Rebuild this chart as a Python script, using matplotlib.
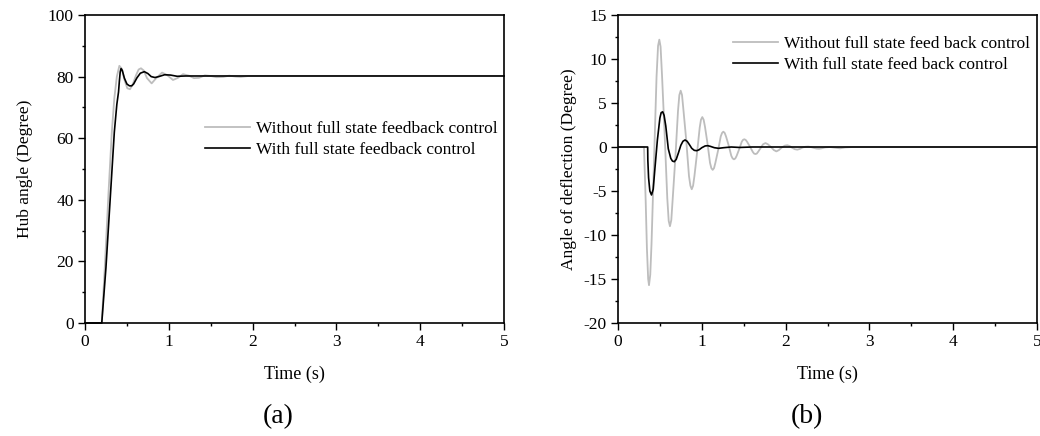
import matplotlib
matplotlib.use("Agg")
import matplotlib.pyplot as plt
from matplotlib.ticker import MultipleLocator

# ---------------- data (a) hub angle ----------------
ta_without = [0.0, 0.2, 0.24, 0.28, 0.32, 0.35, 0.38, 0.41, 0.44, 0.47, 0.505, 0.537, 0.57, 0.61,
              0.64, 0.668, 0.70, 0.74, 0.795, 0.85, 0.92, 0.98, 1.05, 1.11, 1.17, 1.24, 1.30,
              1.36, 1.43, 1.50, 1.57, 1.65, 1.72, 1.80, 1.86, 1.95, 5.0]
va_without = [0.0, 0.0, 20, 42, 62, 73, 80, 83.5, 82.5, 79.0, 76.2, 75.9, 77.5, 80.5,
              82.3, 82.7, 82.0, 79.5, 77.8, 79.5, 81.3, 80.5, 78.9, 79.6, 80.8, 80.3, 79.5,
              79.6, 80.4, 80.2, 79.8, 79.9, 80.3, 80.0, 79.9, 80.2, 80.2]

ta_with = [0.0, 0.2, 0.25, 0.30, 0.35, 0.38, 0.40, 0.41, 0.42, 0.43, 0.445, 0.47, 0.50, 0.53,
           0.557, 0.58, 0.62, 0.66, 0.708, 0.75, 0.79, 0.835, 0.88, 0.95, 1.02, 1.10, 1.20, 5.0]
va_with = [0.0, 0.0, 18, 40, 62, 71, 75, 78.5, 81.5, 82.6, 82.0, 79.5, 77.6, 77.0,
           77.0, 77.6, 79.6, 81.1, 81.6, 81.0, 80.0, 79.7, 80.0, 80.6, 80.5, 80.1, 80.2, 80.2]

# ---------------- data (b) angle of deflection ----------------
tb_without = [0.00, 0.31, 0.33, 0.345, 0.36, 0.37, 0.385, 0.40, 0.43, 0.46, 0.478, 0.493, 0.508,
              0.525, 0.556, 0.588, 0.605, 0.62, 0.636, 0.652, 0.684, 0.716, 0.732, 0.748, 0.764,
              0.78, 0.814, 0.847, 0.864, 0.88, 0.896, 0.912, 0.943, 0.975, 0.99, 1.006, 1.022,
              1.038, 1.068, 1.098, 1.114, 1.13, 1.146, 1.162, 1.194, 1.226, 1.242, 1.257, 1.273,
              1.289, 1.32, 1.352, 1.368, 1.384, 1.40, 1.416, 1.446, 1.477, 1.493, 1.508, 1.524,
              1.54, 1.574, 1.608, 1.624, 1.64, 1.656, 1.672, 1.70, 1.73, 1.76, 1.79, 1.825,
              1.86, 1.89, 1.92, 1.955, 1.99, 2.02, 2.05, 2.08, 2.11, 2.14, 2.17, 2.205, 2.24,
              2.27, 2.30, 2.335, 2.37, 2.40, 2.43, 2.47, 2.53, 2.59, 2.65, 2.71, 2.80, 5.0]
vb_without = [0.0, 0.0, -6.0, -11.5, -15.0, -15.7, -14.5, -11.0, -1.5, 8.0, 11.5, 12.2, 11.4,
              8.2, 1.6, -5.8, -8.4, -9.0, -8.3, -6.0, -1.3, 4.1, 5.9, 6.4, 5.9,
              4.3, 0.8, -3.3, -4.4, -4.8, -4.4, -3.3, -0.7, 2.2, 3.1, 3.4, 3.1,
              2.3, 0.4, -1.8, -2.4, -2.6, -2.4, -1.8, -0.4, 1.2, 1.6, 1.74, 1.6,
              1.2, 0.2, -1.0, -1.3, -1.4, -1.3, -1.0, -0.25, 0.6, 0.82, 0.88, 0.8,
              0.6, 0.05, -0.55, -0.75, -0.8, -0.75, -0.55, -0.15, 0.3, 0.45, 0.3, 0.0,
              -0.35, -0.5, -0.35, -0.05, 0.15, 0.2, 0.1, -0.1, -0.25, -0.3, -0.22, -0.05, 0.03,
              0.05, 0.0, -0.1, -0.18, -0.2, -0.15, -0.05, 0.0, -0.08, -0.15, -0.05, 0.0, 0.0]

tb_with = [0.0, 0.354, 0.356, 0.365, 0.38, 0.40, 0.42, 0.44, 0.47, 0.50, 0.515, 0.533, 0.55,
           0.57, 0.60, 0.63, 0.65, 0.672, 0.695, 0.72, 0.75, 0.775, 0.80, 0.825, 0.85, 0.88,
           0.91, 0.94, 0.97, 1.00, 1.04, 1.07, 1.10, 1.15, 1.20, 1.26, 1.35, 1.45, 1.60, 5.0]
vb_with = [0.0, 0.0, -1.5, -3.5, -5.0, -5.45, -4.8, -2.5, 0.8, 3.3, 3.9, 4.0, 3.6,
           2.4, -0.2, -1.3, -1.6, -1.67, -1.4, -0.7, 0.2, 0.65, 0.8, 0.65, 0.3, -0.15,
           -0.38, -0.42, -0.3, -0.08, 0.12, 0.15, 0.08, -0.08, -0.15, -0.08, 0.0, -0.05, 0.0, 0.0]

label_a_without = "Without full state feedback control"
label_a_with = "With full state feedback control"
label_b_without = "Without full state feed back control"
label_b_with = "With full state feed back control"

plt.rcParams['font.family'] = ['Liberation Serif', 'DejaVu Serif']
plt.rcParams['font.size'] = 12.5
plt.rcParams['axes.unicode_minus'] = False

fig = plt.figure(figsize=(10.4, 4.36), dpi=100)
axa = fig.add_axes([85/1040, 113/436, 419/1040, 308/436])
axb = fig.add_axes([618/1040, 113/436, 419/1040, 308/436])

grey = '#bdbdbd'
for ax in (axa, axb):
    for s in ax.spines.values():
        s.set_linewidth(1.2)
    ax.tick_params(which='both', direction='out', top=False, right=False, labelsize=12.5,
                   width=1.0, pad=3)
    ax.tick_params(which='major', length=5)
    ax.tick_params(which='minor', length=2.5)
    ax.set_xlim(0, 5)
    ax.xaxis.set_major_locator(MultipleLocator(1))
    ax.xaxis.set_minor_locator(MultipleLocator(0.5))
    ax.set_xlabel("Time (s)", fontsize=13, labelpad=11)

axa.plot(ta_without, va_without, color=grey, lw=1.3, label=label_a_without, clip_on=False)
axa.plot(ta_with, va_with, color='black', lw=1.2, label=label_a_with, clip_on=False)
axa.set_ylim(0, 100)
axa.yaxis.set_major_locator(MultipleLocator(20))
axa.yaxis.set_minor_locator(MultipleLocator(10))
axa.set_ylabel("Hub angle (Degree)", fontsize=12.5, labelpad=11)
axa.legend(frameon=False, loc='upper left', bbox_to_anchor=(0.286, 0.657), borderaxespad=0,
           borderpad=0, handlelength=2.6, handletextpad=0.35, labelspacing=0.3, fontsize=12.5)

axb.plot(tb_without, vb_without, color=grey, lw=1.3, label=label_b_without)
axb.plot(tb_with, vb_with, color='black', lw=1.2, label=label_b_with)
axb.set_ylim(-20, 15)
axb.yaxis.set_major_locator(MultipleLocator(5))
axb.yaxis.set_minor_locator(MultipleLocator(2.5))
axb.set_ylabel("Angle of deflection (Degree)", fontsize=12.5, labelpad=5)
axb.legend(frameon=False, loc='upper left', bbox_to_anchor=(0.274, 0.933), borderaxespad=0,
           borderpad=0, handlelength=2.6, handletextpad=0.35, labelspacing=0.3, fontsize=12.5)

fig.text(278/1040, 1 - 417/436, "(a)", fontsize=20, ha='center', va='center')
fig.text(807/1040, 1 - 417/436, "(b)", fontsize=20, ha='center', va='center')

fig.savefig("out.png", dpi=100)
